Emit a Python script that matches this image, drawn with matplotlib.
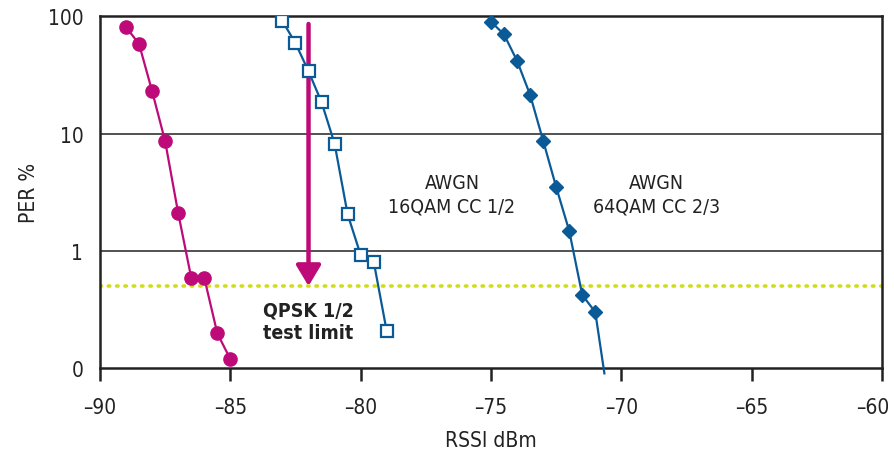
import matplotlib.pyplot as plt
from matplotlib.ticker import FixedLocator, NullLocator
from matplotlib.transforms import ScaledTranslation

# data (RSSI dBm vs PER %)
qpsk_rssi = [-89.0, -88.5, -88.0, -87.5, -87.0, -86.5, -86.0, -85.5, -85.0]
qpsk_per = [81, 58, 23, 8.6, 2.1, 0.59, 0.59, 0.198, 0.119]

qam16_rssi = [-83.0, -82.5, -82.0, -81.5, -81.0, -80.5, -80.0, -79.5, -79.0]
qam16_per = [91, 59, 34, 18.5, 8.2, 2.05, 0.92, 0.81, 0.206]

qam64_rssi = [-75.0, -74.5, -74.0, -73.5, -73.0, -72.5, -72.0, -71.5, -71.0, -70.65]
qam64_per = [90, 70, 41.7, 21.4, 8.7, 3.5, 1.48, 0.42, 0.30, 0.09]

test_limit = 0.5

x_ticks = [-90, -85, -80, -75, -70, -65, -60]
x_tick_labels = ["\u201390", "\u201385", "\u201380", "\u201375", "\u201370", "\u201365", "\u201360"]
y_ticks = [0.1, 1, 10, 100]
y_tick_labels = ["0", "1", "10", "100"]

magenta = "#be0a78"
blue = "#0a5a98"
yellow = "#d2dc1e"
dark = "#222222"

plt.rcParams["font.family"] = ["Liberation Sans Narrow", "DejaVu Sans"]
plt.rcParams["font.stretch"] = "condensed"

fig = plt.figure(figsize=(8.95, 4.52), dpi=100)
ax = fig.add_axes([0.1117, 0.1836, 0.8738, 0.7781])

ax.set_yscale("log")
ax.set_xlim(-90, -60)
ax.set_ylim(0.1, 100)

# gridlines at 1 and 10
for g in [1, 10]:
    ax.axhline(g, color=dark, lw=1.1, zorder=1)

# test limit dotted line
ax.axhline(test_limit, color=yellow, lw=2.6, ls=(0, (0.4, 1.9)), dash_capstyle="round", zorder=2)

# curves
ax.plot(qpsk_rssi, qpsk_per, color=magenta, lw=1.6, marker="o", ms=9.5,
        mfc=magenta, mec=magenta, zorder=4)
ax.plot(qam16_rssi, qam16_per, color=blue, lw=1.6, marker="s", ms=8,
        mfc="white", mec=blue, mew=1.6, zorder=4)
ax.plot(qam64_rssi, qam64_per, color=blue, lw=1.6, zorder=4, clip_on=False)
ax.plot(qam64_rssi[:-1], qam64_per[:-1], ls="none", marker="D", ms=7.5,
        mfc=blue, mec=blue, zorder=5)

# arrow pointing at the test limit
ax.annotate("", xy=(-82, 0.5), xytext=(-82, 86),
            arrowprops=dict(arrowstyle="-|>,head_length=1.25,head_width=0.75",
                            color=magenta, lw=3.2, shrinkA=0, shrinkB=0),
            zorder=3)

ax.text(-82, 0.25, "QPSK 1/2\ntest limit", ha="center", va="center",
        fontsize=14, fontweight="bold", color=dark, linespacing=1.2)
ax.text(-76.5, 3.05, "AWGN\n16QAM CC 1/2", ha="center", va="center",
        fontsize=14, color=dark, linespacing=1.3)
ax.text(-68.65, 3.05, "AWGN\n64QAM CC 2/3", ha="center", va="center",
        fontsize=14, color=dark, linespacing=1.3)

# axes styling
for s in ["left", "right", "top", "bottom"]:
    ax.spines[s].set_color(dark)
    ax.spines[s].set_linewidth(1.8)

ax.xaxis.set_major_locator(FixedLocator(x_ticks))
ax.set_xticklabels(x_tick_labels)
ax.xaxis.set_minor_locator(NullLocator())
ax.yaxis.set_major_locator(FixedLocator(y_ticks))
ax.set_yticklabels(y_tick_labels)
ax.yaxis.set_minor_locator(NullLocator())

ax.tick_params(axis="x", direction="out", length=9, width=1.8, color=dark,
               labelsize=15, labelcolor=dark, pad=12)
ax.tick_params(axis="y", length=0, labelsize=15, labelcolor=dark, pad=12)

# the last x label sits a little left so it stays inside the picture
last = ax.get_xticklabels()[-1]
last.set_transform(last.get_transform() + ScaledTranslation(-7 / 72, 0, fig.dpi_scale_trans))

ax.set_xlabel("RSSI dBm", fontsize=15, color=dark, labelpad=9)
ax.set_ylabel("PER %", fontsize=15, color=dark, labelpad=6)

fig.savefig("out.png", dpi=100)
